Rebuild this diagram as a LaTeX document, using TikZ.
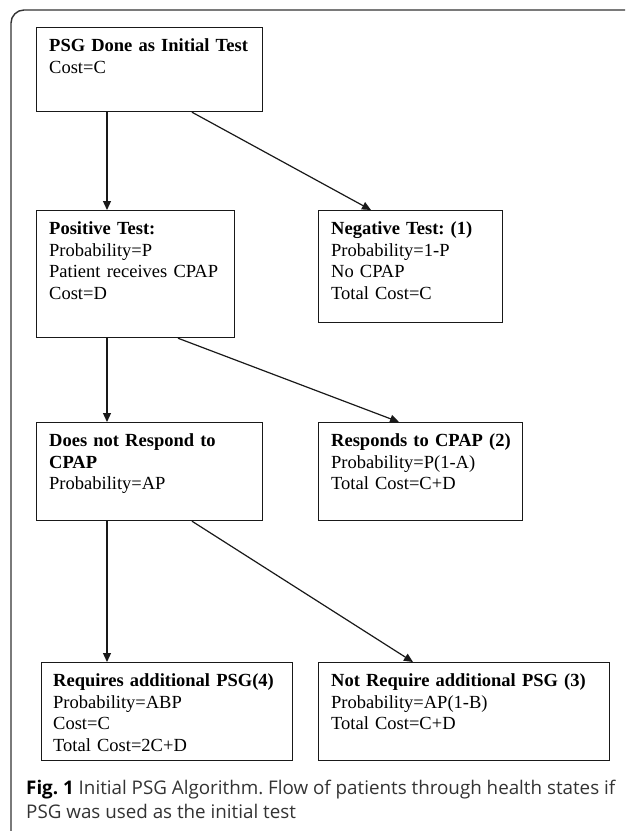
\documentclass[tikz,border=0pt]{standalone}
\usepackage{graphicx}
\usepackage{fontspec}
\setmainfont{Liberation Serif}
\newfontfamily\capfont{Open Sans}
\frenchspacing
\usetikzlibrary{arrows.meta}
\tikzset{
  boxnode/.style={draw=black!90, line width=1.2pt, rectangle, anchor=north west, inner sep=0pt},
  boxtext/.style={anchor=base west, inner sep=0pt, align=left, text width=300pt,
    font=\fontsize{18.5}{21.5}\selectfont},
  arr/.style={draw=black!90, line width=1.2pt, -{Triangle[length=9pt,width=8pt]}},
  frame/.style={draw=black!80, line width=1.4pt, rounded corners=13pt},
  captext/.style={anchor=base west, inner sep=0pt, text=black!80}
}
\begin{document}
\begin{tikzpicture}[x=1pt,y=-1pt]
\useasboundingbox (0,0) rectangle (625,831);
\clip (0,0) rectangle (625,831);
\draw[frame] (11,10) rectangle (660,860);
% boxes
\node[boxnode, minimum width=226pt, minimum height=84pt] (b1) at (36,27) {};
\node[boxnode, minimum width=198pt, minimum height=127pt] (b2) at (36,210) {};
\node[boxnode, minimum width=184pt, minimum height=112pt] (b3) at (318,210) {};
\node[boxnode, minimum width=226pt, minimum height=98pt] (b4) at (36,422) {};
\node[boxnode, minimum width=204pt, minimum height=98pt] (b5) at (318,422) {};
\node[boxnode, minimum width=251pt, minimum height=98pt] (b6) at (41,662) {};
\node[boxnode, minimum width=291pt, minimum height=98pt] (b7) at (318,662) {};
% texts
\node[boxtext] (t1) at ([shift={(13pt,-24.5pt)}]b1.north west)
  {\textbf{PSG Done as Initial Test}\\Cost=C};
\node[boxtext] (t2) at ([shift={(13pt,-24.5pt)}]b2.north west)
  {\textbf{Positive Test:}\\Probability=P\\Patient receives CPAP\\Cost=D};
\node[boxtext] (t3) at ([shift={(13pt,-24.5pt)}]b3.north west)
  {\textbf{Negative Test: (1)}\\Probability=1-P\\No CPAP\\Total Cost=C};
\node[boxtext] (t4) at ([shift={(13pt,-24.5pt)}]b4.north west)
  {\textbf{Does not Respond to}\\\textbf{CPAP}\\Probability=AP};
\node[boxtext] (t5) at ([shift={(13pt,-24.5pt)}]b5.north west)
  {\textbf{Responds to CPAP (2)}\\Probability=P(1-A)\\Total Cost=C+D};
\node[boxtext] (t6) at ([shift={(12pt,-24.5pt)}]b6.north west)
  {\textbf{Requires additional PSG(4)}\\Probability=ABP\\Cost=C\\Total Cost=2C+D};
\node[boxtext] (t7) at ([shift={(13pt,-24.5pt)}]b7.north west)
  {\textbf{Not Require additional PSG (3)}\\Probability=AP(1-B)\\Total Cost=C+D};
% connectors
\draw[arr] ([xshift=71pt]b1.south west) -- ([xshift=71pt]b2.north west);
\draw[arr] ([xshift=156pt]b1.south west) -- ([xshift=53pt]b3.north west);
\draw[arr] ([xshift=71pt]b2.south west) -- ([xshift=71pt]b4.north west);
\draw[arr] ([xshift=142pt]b2.south west) -- ([xshift=81pt]b5.north west);
\draw[arr] ([xshift=71pt]b4.south west) -- ([xshift=66pt]b6.north west);
\draw[arr] ([xshift=156pt]b4.south west) -- ([xshift=95pt]b7.north west);
% caption
\node[captext] (cap) at (26,794)
  {\resizebox{589pt}{!}{\capfont\fontsize{16}{20.5}\selectfont\frenchspacing
   \begin{tabular}[t]{@{}l@{}}
   {\color{black}\textbf{Fig. 1}} Initial PSG Algorithm. Flow of patients through health states if\\
   PSG was used as the initial test
   \end{tabular}}};
\end{tikzpicture}
\end{document}
